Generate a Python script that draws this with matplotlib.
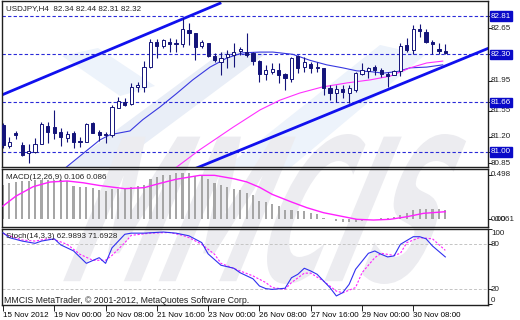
import matplotlib
matplotlib.use("Agg")
import matplotlib.pyplot as plt
from matplotlib.patches import Polygon, PathPatch
from matplotlib.textpath import TextPath
from matplotlib.font_manager import FontProperties
from matplotlib.transforms import Affine2D

plt.rcParams['font.family'] = ['Liberation Sans', 'DejaVu Sans']

# USDJPY H4 candles, 15 Nov 2012 .. 30 Nov 2012 (one entry per bar)
opens = [81.36, 81.08, 81.25, 81.09, 80.99, 81.00, 81.11, 81.35, 81.33, 81.27,
         81.19, 81.25, 81.15, 81.13, 81.39, 81.27, 81.24, 81.22, 81.59, 81.67,
         81.64, 81.86, 81.86, 82.13, 82.46, 82.41, 82.46, 82.45, 82.44, 82.62,
         82.58, 82.41, 82.45, 82.28, 82.20, 82.26, 82.29, 82.34, 82.33, 82.32,
         82.21, 82.04, 82.07, 82.09, 82.04, 81.97, 82.28, 82.13, 82.17, 82.13,
         82.12, 81.85, 81.79, 81.84, 81.79, 81.83, 82.04, 82.08, 82.13, 82.09,
         82.04, 82.02, 82.08, 82.42, 82.36, 82.64, 82.60, 82.47, 82.37, 82.34]
highs = [81.39, 81.20, 81.28, 81.13, 81.11, 81.19, 81.40, 81.40, 81.56, 81.32,
         81.28, 81.28, 81.20, 81.39, 81.40, 81.29, 81.27, 81.63, 81.73, 81.72,
         81.92, 81.93, 82.21, 82.50, 82.50, 82.50, 82.52, 82.50, 82.78, 82.72,
         82.58, 82.49, 82.45, 82.32, 82.33, 82.36, 82.45, 82.40, 82.58, 82.33,
         82.22, 82.16, 82.18, 82.18, 82.05, 82.26, 82.29, 82.26, 82.20, 82.20,
         82.12, 81.89, 81.89, 81.89, 81.89, 82.07, 82.19, 82.13, 82.16, 82.12,
         82.07, 82.09, 82.45, 82.52, 82.69, 82.70, 82.64, 82.49, 82.45, 82.44]
lows = [81.05, 81.05, 81.17, 80.94, 80.85, 80.99, 81.10, 81.12, 81.17, 81.08,
        81.13, 81.05, 81.07, 81.13, 81.25, 81.15, 81.12, 81.20, 81.58, 81.61,
        81.63, 81.80, 81.80, 82.12, 82.25, 82.38, 82.33, 82.33, 82.40, 82.42,
        82.22, 82.38, 82.26, 82.20, 82.03, 82.12, 82.13, 82.29, 82.26, 82.16,
        81.93, 81.96, 82.04, 81.92, 81.83, 81.93, 82.05, 82.07, 82.05, 82.07,
        81.76, 81.69, 81.67, 81.72, 81.65, 81.80, 82.03, 81.99, 82.03, 82.00,
        81.87, 82.02, 82.01, 82.33, 82.30, 82.53, 82.45, 82.30, 82.30, 82.31]
closes = [81.09, 81.13, 81.23, 80.96, 81.01, 81.11, 81.37, 81.27, 81.25, 81.20,
          81.24, 81.13, 81.13, 81.37, 81.25, 81.23, 81.22, 81.60, 81.68, 81.63,
          81.86, 81.89, 82.13, 82.46, 82.41, 82.49, 82.44, 82.44, 82.64, 82.58,
          82.40, 82.46, 82.28, 82.22, 82.25, 82.30, 82.33, 82.37, 82.29, 82.21,
          82.04, 82.09, 82.10, 82.03, 81.98, 82.25, 82.12, 82.20, 82.12, 82.12,
          81.85, 81.79, 81.84, 81.80, 81.85, 82.05, 82.09, 82.12, 82.09, 82.04,
          82.01, 82.08, 82.41, 82.36, 82.64, 82.61, 82.46, 82.44, 82.34, 82.32]

# moving averages (bar index, price)
ma_fast_bars = [9.9, 15.1, 16.7, 19.8, 21.8, 24.5, 27.1, 29.6, 32.3, 34.9, 37.4, 40.1,
                42.1, 45.2, 47.9, 50.5, 53.0, 55.2, 57.3, 59.3, 61.5, 63.5, 66.1, 68.6]
ma_fast_vals = [80.80, 81.16, 81.23, 81.28, 81.43, 81.60, 81.78, 81.96, 82.13, 82.25, 82.32, 82.33,
                82.33, 82.30, 82.22, 82.16, 82.12, 82.08, 82.07, 82.05, 82.07, 82.12, 82.13, 82.16]
ma_slow_bars = [27.1, 30.7, 35.9, 40.1, 43.2, 46.3, 49.8, 53.7, 57.3, 60.4, 63.5, 66.1, 68.6]
ma_slow_vals = [80.80, 81.03, 81.33, 81.56, 81.69, 81.785, 81.865, 81.92, 81.96, 82.01, 82.12, 82.185, 82.21]

# channel trend lines (bar index, price)
upper_line_bars = [-0.16, 33.85]
upper_line_vals = [81.76, 82.98]
lower_line_bars = [30.3, 75.7]
lower_line_vals = [80.79, 82.38]

levels = [82.81, 82.30, 81.66, 81.00]
price_ticks = [82.65, 81.95, 81.55, 81.20, 80.85]

# MACD(12,26,9)
macd_hist = [0.39, 0.41, 0.42, 0.43, 0.43, 0.44, 0.44, 0.44, 0.44, 0.44,
             0.43, 0.37, 0.36, 0.36, 0.35, 0.33, 0.32, 0.34, 0.34, 0.34,
             0.36, 0.37, 0.39, 0.45, 0.47, 0.50, 0.50, 0.52, 0.52, 0.52,
             0.49, 0.49, 0.45, 0.41, 0.38, 0.36, 0.34, 0.33, 0.30, 0.27,
             0.21, 0.195, 0.17, 0.15, 0.105, 0.10, 0.094, 0.094, 0.075, 0.057,
             0.019, 0.001, -0.02, -0.025, -0.03, -0.03, -0.015, 0.0, 0.005, 0.015,
             0.02, 0.03, 0.045, 0.07, 0.105, 0.12, 0.12, 0.12, 0.115, 0.106]
macd_sig_bars = [0, 2, 4.7, 7.3, 10, 12.5, 15, 19, 22, 24.5, 27, 30.7, 33, 36, 38,
                 40, 42, 45, 47.4, 50, 52.6, 55.2, 57.8, 60.4, 63, 65.6, 69]
macd_sig_vals = [0.15, 0.26, 0.366, 0.418, 0.43, 0.41, 0.38, 0.344, 0.355, 0.404, 0.449, 0.493, 0.493,
                 0.455, 0.42, 0.36, 0.28, 0.195, 0.131, 0.075, 0.038, 0.001, -0.007, 0.001, 0.03, 0.068, 0.086]

# Stochastic(14,3,3)
stoch_k_bars = [0, 1, 3, 5, 6, 8, 9, 11, 13, 15, 16, 17, 19, 20, 22, 25, 27, 29, 31, 32,
                34, 36, 37, 39, 40, 41, 42, 44, 45, 46, 47, 48, 49, 51, 52, 53, 54, 55, 57, 58,
                59, 60, 61, 62, 64, 65, 66, 67, 69]
stoch_k_vals = [95, 88.5, 84, 81, 84, 87, 79, 71, 54.5, 62, 54.5, 75, 93, 94.5, 94.5, 96, 94.5, 91, 82, 67,
                52, 48, 42, 34, 24.5, 21, 20, 21.5, 35.4, 40, 48, 44.4, 40, 22.4, 11.3, 15.7, 26.7, 46.6, 67.8, 70.9,
                66.5, 63, 64.3, 79.7, 89.8, 89.8, 87, 77.5, 63]
stoch_d_bars = [0, 3, 5, 7, 8, 10, 12, 14, 16, 17, 19, 20, 23, 26, 28, 29, 31, 33, 34, 37,
                39, 41, 42, 44, 45, 47, 48, 50, 52, 53, 55, 56, 58, 59, 61, 62, 63, 65, 67, 69]
stoch_d_vals = [94, 85.4, 84, 87, 86, 79.7, 66.5, 58.6, 58.6, 65, 81.8, 91.6, 94.5, 95.4, 91.6, 88.6, 79.7, 66.5, 54.5, 44.4,
                37.8, 29, 22.4, 20.1, 29, 41.5, 41.5, 31, 17.7, 15.5, 22.4, 42, 62, 67.8, 65, 67.8, 82, 88.6, 87, 71.7]

time_labels = ["15 Nov 2012", "19 Nov 00:00", "20 Nov 08:00", "21 Nov 16:00", "23 Nov 00:00",
               "26 Nov 08:00", "27 Nov 16:00", "29 Nov 00:00", "30 Nov 08:00"]
time_label_bars = [0, 8, 16, 24, 32, 40, 48, 56, 64]

W, H = 520, 320
NAVY = '#14147a'
FS = 5.8

fig = plt.figure(figsize=(W / 100, H / 100), dpi=100, facecolor='white')


def px_poly(points, **kw):
    pts = [(x / W, 1 - y / H) for x, y in points]
    fig.patches.append(Polygon(pts, closed=True, transform=fig.transFigure, zorder=-5, **kw))


# watermark: light blue swooshes and big MMCIS letters, behind everything
px_poly([(65, 168), (112, 168), (268, 52), (222, 52)], facecolor='#e9eef7', edgecolor='none')
px_poly([(62, 56), (98, 48), (155, 86), (120, 96)], facecolor='#edf3fb', edgecolor='none')
px_poly([(225, 168), (290, 168), (425, 55), (380, 45)], facecolor='#edf3fb', edgecolor='none')

tp = TextPath((0, 0), "MMCIS", size=1, prop=FontProperties(family='DejaVu Sans', weight='bold'))
bb = tp.get_extents()
wm = (Affine2D().translate(-bb.x0, -bb.y0).scale(1 / bb.width, 1 / bb.height).skew_deg(10, 0)
      .scale(350 / W, 150 / H).translate(62 / W, 1 - 284 / H))
fig.patches.append(PathPatch(tp, transform=wm + fig.transFigure, facecolor='#ececf0',
                             edgecolor='none', zorder=-4))


def panel(top, bottom):
    a = fig.add_axes([2 / W, 1 - bottom / H, 486 / W, (bottom - top) / H])
    a.set_facecolor('none')
    a.set_xlim(-0.16, 75.66)
    for s in a.spines.values():
        s.set_color('#202020')
        s.set_linewidth(1.0)
    a.yaxis.tick_right()
    a.tick_params(axis='y', direction='out', length=3, width=0.7, labelright=False, color='#202020')
    a.tick_params(axis='x', bottom=False, labelbottom=False)
    return a


# ---- price panel ----
ax = panel(1, 167)
ax.set_ylim(80.80, 83.01)
for v in levels:
    ax.axhline(v, color='#2a2ad8', lw=0.8, ls=(0, (3, 2)), zorder=1)

ax.plot(upper_line_bars, upper_line_vals, color='#1010ee', lw=2.0, zorder=2)
ax.plot(lower_line_bars, lower_line_vals, color='#1010ee', lw=2.0, zorder=2)
ax.plot(ma_fast_bars, ma_fast_vals, color='#3838e0', lw=0.8, zorder=3)
ax.plot(ma_slow_bars, ma_slow_vals, color='#ff30ff', lw=0.8, zorder=3)

for i in range(len(opens)):
    o, h, l, c = opens[i], highs[i], lows[i], closes[i]
    ax.vlines(i, l, h, color=NAVY, lw=0.8, zorder=4)
    bottom = min(o, c)
    height = max(abs(c - o), 0.006)
    face = 'white' if c > o else NAVY
    ax.bar(i, height, bottom=bottom, width=0.5, facecolor=face, edgecolor=NAVY, lw=0.7, zorder=5)

ax.set_yticks(levels + price_ticks)
ytr = ax.get_yaxis_transform()
for v in price_ticks:
    ax.text(1.006, v, f"{v:.2f}", transform=ytr, fontsize=FS, va='center', ha='left', color='#202020')
for v in levels:
    ax.text(1.006, v, f"{v:.2f}", transform=ytr, fontsize=FS, va='center', ha='left', color='white',
            bbox=dict(boxstyle='square,pad=0.15', facecolor='#0a0ac8', edgecolor='#0a0ac8'))
ax.text(4 / 486, 0.955, "USDJPY,H4  82.34 82.44 82.31 82.32", transform=ax.transAxes,
        fontsize=FS, va='center', ha='left', color='#202020')

# ---- MACD panel ----
axm = panel(169, 227)
axm.set_ylim(-0.085, 0.564)
axm.bar(range(len(macd_hist)), macd_hist, width=0.33, color='#a6a6a6', zorder=2)
axm.plot(macd_sig_bars, macd_sig_vals, color='#ff20ff', lw=1.0, zorder=3)
axm.set_yticks([0.498, 0.0])
ytr = axm.get_yaxis_transform()
axm.text(1.006, 0.498, "0.498", transform=ytr, fontsize=FS, va='center', ha='left', color='#202020')
# the terminal prints the zero level and the scale minimum on top of each other
axm.text(1.006, 0.0, "0.00", transform=ytr, fontsize=FS, va='center', ha='left', color='#202020')
axm.text(1.014, 0.0, "0.061", transform=ytr, fontsize=FS, va='center', ha='left', color='#202020')
axm.text(4 / 486, 0.86, "MACD(12,26,9) 0.106 0.086", transform=axm.transAxes,
         fontsize=FS, va='center', ha='left', color='#202020')

# ---- Stochastic panel ----
axs = panel(229, 305)
axs.set_ylim(-0.7, 100)
for v in (80, 20):
    axs.axhline(v, color='#c4c4c4', lw=0.7, ls=(0, (3, 2)), zorder=1)
axs.plot(stoch_d_bars, stoch_d_vals, color='#ff20ff', lw=0.8, ls=(0, (2, 1.5)), zorder=2)
axs.plot(stoch_k_bars, stoch_k_vals, color='#3030f0', lw=0.8, zorder=3)
axs.set_yticks([100, 80, 20, 0])
ytr = axs.get_yaxis_transform()
axs.text(1.006, 99, "100", transform=ytr, fontsize=FS, va='top', ha='left', color='#202020')
axs.text(1.006, 80, "80", transform=ytr, fontsize=FS, va='center', ha='left', color='#202020')
axs.text(1.006, 20, "20", transform=ytr, fontsize=FS, va='center', ha='left', color='#202020')
axs.text(1.006, 1, "0", transform=ytr, fontsize=FS, va='bottom', ha='left', color='#202020')
axs.text(4 / 486, 0.9, "Stoch(14,3,3) 62.9893 71.6928", transform=axs.transAxes,
         fontsize=FS, va='center', ha='left', color='#202020')
axs.text(2 / 486, 0.06, "MMCIS MetaTrader, \u00a9 2001-2012, MetaQuotes Software Corp.",
         transform=axs.transAxes, fontsize=6.3, va='center', ha='left', color='#202020')

axs.tick_params(axis='x', bottom=True, labelbottom=True, direction='out', length=4, width=0.7,
                color='#202020', pad=1, labelsize=FS)
axs.set_xticks(time_label_bars)
axs.set_xticklabels(time_labels, ha='left')

fig.savefig("out.png", dpi=100, facecolor='white')
